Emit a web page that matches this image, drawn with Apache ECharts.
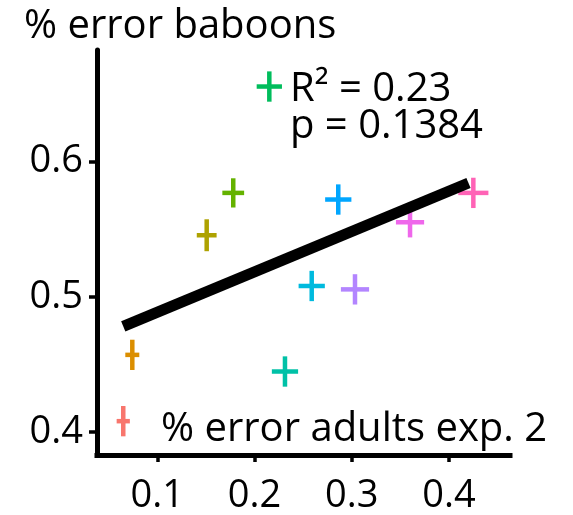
<!DOCTYPE html>
<html>
<head>
<meta charset="utf-8">
<script src="https://cdn.jsdelivr.net/npm/echarts@6/dist/echarts.min.js"></script>
<style>
  html, body { margin: 0; padding: 0; background: #fff; }
  #chart { width: 573px; height: 515px; }
</style>
</head>
<body>
<div id="chart"></div>
<script>
// % error adults (exp. 2) vs % error baboons, one cross per item
var adultErr  = [0.065, 0.0743, 0.1508, 0.1781, 0.2152, 0.2313, 0.2588, 0.2861, 0.3033, 0.3599, 0.425];
var baboonErr = [0.408, 0.457, 0.5454, 0.5767, 0.6553, 0.4447, 0.5079, 0.5718, 0.5054, 0.555, 0.5767];
var adultSe   = [0.0068, 0.0072, 0.0102, 0.0112, 0.0130, 0.0135, 0.0135, 0.0135, 0.0145, 0.0145, 0.0155];
var baboonSe  = [0.0112, 0.0112, 0.0118, 0.0108, 0.0112, 0.0112, 0.0112, 0.0112, 0.0112, 0.0112, 0.0112];
var colors = ['#F8766D', '#DB8E00', '#AEA200', '#64B200', '#00BD5C', '#00C1A7',
              '#00BADE', '#00A6FF', '#B385FF', '#EF67EB', '#FF63B6'];
// regression line end points
var fitX = [0.065, 0.42];
var fitY = [0.478, 0.584];
var xTicks = [0.1, 0.2, 0.3, 0.4];
var yTicks = [0.4, 0.5, 0.6];

var FONT = 'Open Sans';
var TXT = '40px "Open Sans"';

var crossData = adultErr.map(function (x, i) {
  return [x, baboonErr[i], adultSe[i], baboonSe[i], i];
});

var chart = echarts.init(document.getElementById('chart'));
chart.setOption({
  animation: false,
  grid: { left: 97, right: 63, top: 50, bottom: 59, containLabel: false },
  xAxis: {
    type: 'value',
    min: 0.038,
    max: 0.4627,
    splitLine: { show: false },
    axisLine: { lineStyle: { color: '#000', width: 5, cap: 'square' } },
    axisTick: { customValues: xTicks, length: 7, lineStyle: { color: '#000', width: 3.5 } },
    axisLabel: {
      customValues: xTicks,
      margin: 22,
      color: '#000',
      fontFamily: FONT,
      fontSize: 38,
      formatter: function (v) { return v.toFixed(1); }
    }
  },
  yAxis: {
    type: 'value',
    min: 0.383,
    max: 0.6823,
    splitLine: { show: false },
    axisLine: { lineStyle: { color: '#000', width: 5 } },
    axisTick: { customValues: yTicks, length: 8, lineStyle: { color: '#000', width: 3.5 } },
    axisLabel: {
      customValues: yTicks,
      margin: 14,
      color: '#000',
      fontFamily: FONT,
      fontSize: 38,
      formatter: function (v) { return v.toFixed(1); }
    }
  },
  graphic: [
    { type: 'text', left: 24, top: 7, style: { text: '% error baboons', font: TXT, fill: '#000' } },
    { type: 'text', left: 290, top: 70, style: { text: 'R\u00b2 = 0.23', font: TXT, fill: '#000' } },
    { type: 'text', left: 290, top: 107, style: { text: 'p = 0.1384', font: TXT, fill: '#000' } },
    { type: 'text', left: 161, top: 410, style: { text: '% error adults exp. 2', font: TXT, fill: '#000' } }
  ],
  series: [
    {
      type: 'custom',
      data: crossData,
      renderItem: function (params, api) {
        var x = api.value(0), y = api.value(1), sx = api.value(2), sy = api.value(3);
        var c = colors[api.value(4)];
        var l = api.coord([x - sx, y]), r = api.coord([x + sx, y]);
        var t = api.coord([x, y + sy]), b = api.coord([x, y - sy]);
        var st = { stroke: c, lineWidth: 4.5 };
        return {
          type: 'group',
          children: [
            { type: 'line', shape: { x1: l[0], y1: l[1], x2: r[0], y2: r[1] }, style: st },
            { type: 'line', shape: { x1: t[0], y1: t[1], x2: b[0], y2: b[1] }, style: st }
          ]
        };
      },
      z: 2
    },
    {
      type: 'line',
      data: [[fitX[0], fitY[0]], [fitX[1], fitY[1]]],
      symbol: 'none',
      lineStyle: { color: '#000', width: 11, cap: 'butt' },
      z: 3
    }
  ]
});
</script>
</body>
</html>
